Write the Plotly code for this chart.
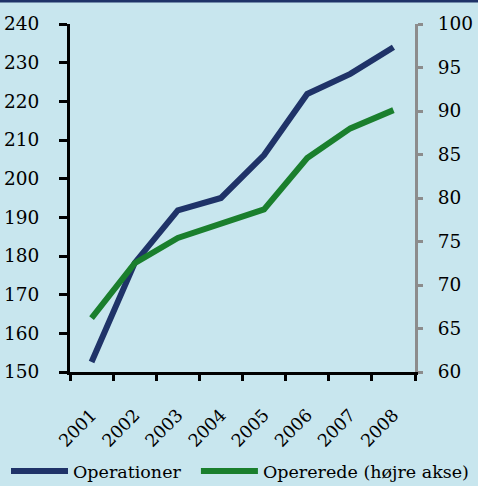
import plotly.graph_objects as go

years = ["2001", "2002", "2003", "2004", "2005", "2006", "2007", "2008"]
operationer = [152.6, 178.2, 191.8, 195.0, 206.1, 221.9, 227.1, 234.0]
opererede = [66.2, 72.5, 75.4, 77.0, 78.7, 84.6, 88.0, 90.1]

left_ticks = list(range(150, 241, 10))
right_ticks = list(range(60, 101, 5))

BLUE = "#1F3368"
GREEN = "#1A7F2D"
BG = "#C8E6EE"
FONT = "DejaVu Serif"

fig = go.Figure()
fig.add_trace(go.Scatter(x=years, y=operationer, name="Operationer", mode="lines",
                         line=dict(color=BLUE, width=6), yaxis="y", legend="legend"))
fig.add_trace(go.Scatter(x=years, y=opererede, name="Opererede (højre akse)", mode="lines",
                         line=dict(color=GREEN, width=6), yaxis="y2", legend="legend2"))

leg_common = dict(orientation="h", y=-0.285, xanchor="left", yanchor="middle",
                  bgcolor="rgba(0,0,0,0)", font=dict(size=17.5, family=FONT), itemwidth=57)

fig.update_layout(
    width=478, height=486,
    margin=dict(l=70, r=63, t=24, b=114, autoexpand=False),
    paper_bgcolor=BG, plot_bgcolor=BG,
    font=dict(family=FONT, size=18, color="black"),
    showlegend=True,
    legend=dict(x=-0.1855, **leg_common),
    legend2=dict(x=0.365, **leg_common),
    xaxis=dict(type="category", showgrid=False, showline=True, linecolor="black", linewidth=3,
               ticks="outside", ticklen=6, tickwidth=3, tickcolor="black",
               tickson="boundaries", tickangle=-45, tickfont=dict(size=17.5),
               ticklabelstandoff=23, zeroline=False, range=[-0.5, 7.5]),
    yaxis=dict(range=[150, 240], tickvals=left_ticks, showgrid=False, showline=True,
               linecolor="black", linewidth=3, ticks="outside", ticklen=8, tickwidth=3,
               tickcolor="black", ticklabelstandoff=16, tickfont=dict(size=18.5),
               zeroline=False),
    yaxis2=dict(range=[60, 100], tickvals=right_ticks, overlaying="y", side="right",
                showgrid=False, showline=True, linecolor="#8C8C8C", linewidth=3,
                ticks="outside", ticklen=5, tickwidth=3, tickcolor="#8C8C8C",
                ticklabelstandoff=11, tickfont=dict(size=18.5), zeroline=False),
)

fig.add_shape(type="line", xref="paper", yref="paper", x0=-0.25, x1=1.25, y0=1.066, y1=1.066,
              line=dict(color=BLUE, width=3))

fig.write_html("out.html", config={"displayModeBar": False},
               post_script="document.body.style.margin='0';")
